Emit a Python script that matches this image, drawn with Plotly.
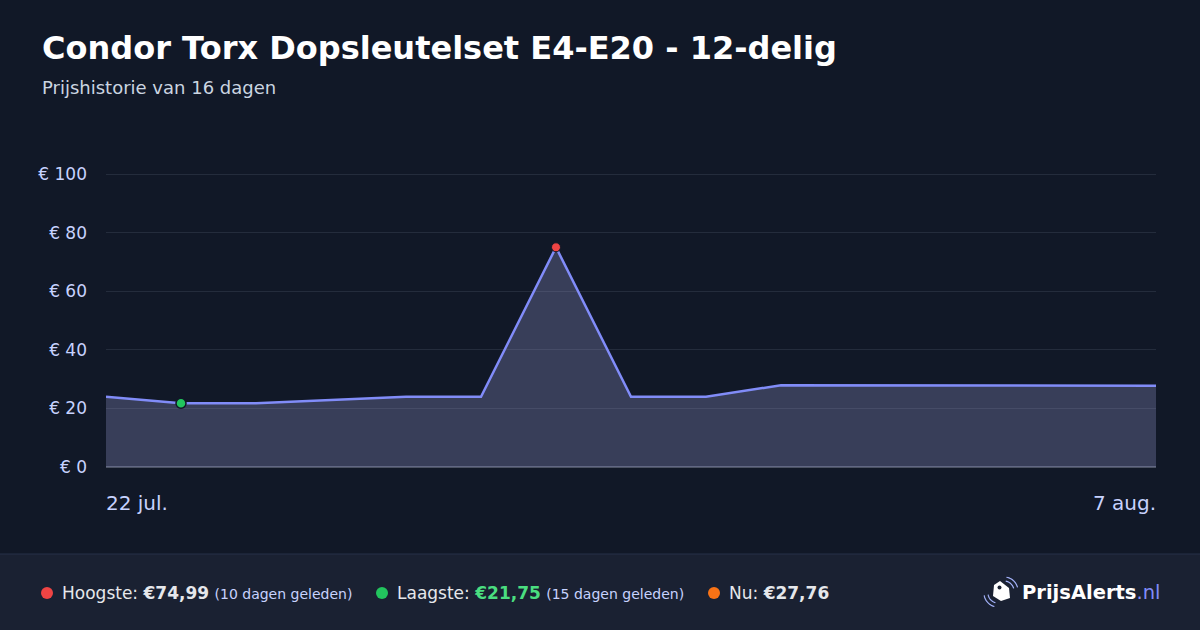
import math
import plotly.graph_objects as go

# ---- data ----
dates = ["22 jul.", "23 jul.", "24 jul.", "25 jul.", "26 jul.", "27 jul.", "28 jul.", "29 jul.",
         "30 jul.", "31 jul.", "1 aug.", "2 aug.", "3 aug.", "5 aug.", "7 aug."]
prices = [23.99, 21.75, 21.75, 22.90, 23.99, 23.99, 74.99, 23.99,
          23.99, 27.90, 27.90, 27.90, 27.85, 27.80, 27.76]
y_ticks = [0, 20, 40, 60, 80, 100]
y_tick_labels = ["€ 0", "€ 20", "€ 40", "€ 60", "€ 80", "€ 100"]
first_label = "22 jul."
last_label = "7 aug."
title = "Condor Torx Dopsleutelset E4-E20 - 12-delig"
subtitle = "Prijshistorie van 16 dagen"
high_idx = 6
low_idx = 1
high_ago = "(10 dagen geleden)"
low_ago = "(15 dagen geleden)"

W, H = 1200, 630
L, R, T, B = 106, 44, 172, 163
PW, PH = W - L - R, H - T - B
Y_MAX = 100 * PH / 293.0  # keeps 100 at y=174 px with a visible top gridline

def px(x):
    return (x - L) / PW

def py(y):
    return (H - B - y) / PH

FONT = "DejaVu Sans"
BG = "#111827"
FOOT = "#1a2132"

x = list(range(len(prices)))

fig = go.Figure()
fig.add_trace(go.Scatter(
    x=x, y=prices, mode="lines",
    line=dict(color="#818cf8", width=2.5),
    fill="tozeroy", fillcolor="rgba(150,152,205,0.30)",
    hoverinfo="skip", showlegend=False,
))
fig.add_trace(go.Scatter(
    x=[x[low_idx]], y=[prices[low_idx]], mode="markers",
    marker=dict(color="#22c55e", size=10, line=dict(color="#111827", width=1.5)),
    showlegend=False, hoverinfo="skip",
))
fig.add_trace(go.Scatter(
    x=[x[high_idx]], y=[prices[high_idx]], mode="markers",
    marker=dict(color="#ef4444", size=9, line=dict(color="#111827", width=1)),
    showlegend=False, hoverinfo="skip",
))

shapes = [
    dict(type="rect", xref="paper", yref="paper", x0=px(0), x1=px(W), y0=py(554), y1=py(H),
         fillcolor=FOOT, line=dict(width=0), layer="below"),
    dict(type="line", xref="paper", yref="paper", x0=px(0), x1=px(W), y0=py(554), y1=py(554),
         line=dict(color="#263049", width=1)),
]
for cx, col in [(47, "#ef4444"), (382, "#22c55e"), (714, "#f97316")]:
    shapes.append(dict(type="circle", xref="paper", yref="paper",
                       x0=px(cx - 6), x1=px(cx + 6), y0=py(593 - 6), y1=py(593 + 6),
                       fillcolor=col, line=dict(width=0)))

def path(points):
    return "M " + " L ".join(f"{px(a)},{py(b)}" for a, b in points) + " Z"

tag = [(1000, 581), (1009, 588), (1010, 598), (1001, 601), (993, 596), (994, 585)]
shapes.append(dict(type="path", xref="paper", yref="paper", path=path(tag),
                   fillcolor="white", line=dict(width=0)))
shapes.append(dict(type="circle", xref="paper", yref="paper",
                   x0=px(997.5), x1=px(1001.5), y0=py(585.5), y1=py(589.5),
                   fillcolor=FOOT, line=dict(width=0)))

def arc(cx, cy, r, a0, a1, n=12):
    pts = []
    for i in range(n + 1):
        a = math.radians(a0 + (a1 - a0) * i / n)
        pts.append((cx + r * math.cos(a), cy + r * math.sin(a)))
    return "M " + " L ".join(f"{px(a)},{py(b)}" for a, b in pts)

for cx, cy, r, a0, a1 in [(1004, 591, 10, -80, -15), (1004, 591, 14, -80, -15),
                          (998, 593, 10, 105, 170), (998, 593, 14, 105, 170)]:
    shapes.append(dict(type="path", xref="paper", yref="paper", path=arc(cx, cy, r, a0, a1),
                       line=dict(color="#a5b4fc", width=1.2)))

ann = [
    dict(x=px(40), y=py(48), xref="paper", yref="paper", xanchor="left", yanchor="middle",
         text=f"<b>{title}</b>", showarrow=False,
         font=dict(family=FONT, size=32, color="#ffffff")),
    dict(x=px(40), y=py(87), xref="paper", yref="paper", xanchor="left", yanchor="middle",
         text=subtitle, showarrow=False,
         font=dict(family=FONT, size=18, color="#cbd5e1")),
    dict(x=x[0], y=py(503), xref="x", yref="paper", xanchor="left", yanchor="middle",
         text=first_label, showarrow=False, xshift=-2,
         font=dict(family=FONT, size=20, color="#c7d2fe")),
    dict(x=x[-1], y=py(503), xref="x", yref="paper", xanchor="right", yanchor="middle",
         text=last_label, showarrow=False, xshift=2,
         font=dict(family=FONT, size=20, color="#c7d2fe")),
]

def eur(v):
    return "€" + f"{v:.2f}".replace(".", ",")

small = "<span style='font-size:14px;color:#c7d2fe'>"
foot_items = [
    (60, f"Hoogste: <b>{eur(prices[high_idx])}</b> {small}{high_ago}</span>"),
    (395, f"Laagste: <b><span style='color:#4ade80'>{eur(prices[low_idx])}</span></b> {small}{low_ago}</span>"),
    (727, f"Nu: <b>{eur(prices[-1])}</b>"),
]
for fx, txt in foot_items:
    ann.append(dict(x=px(fx), y=py(593), xref="paper", yref="paper", xanchor="left",
                    yanchor="middle", text=txt, showarrow=False,
                    font=dict(family=FONT, size=17, color="#e5e7eb")))
ann.append(dict(x=px(1162), y=py(592), xref="paper", yref="paper", xanchor="right",
                yanchor="middle", showarrow=False,
                text="<b>PrijsAlerts</b><span style='color:#818cf8'>.nl</span>",
                font=dict(family=FONT, size=19.5, color="#ffffff")))

fig.update_layout(
    width=W, height=H,
    margin=dict(l=L, r=R, t=T, b=B),
    paper_bgcolor=BG, plot_bgcolor=BG,
    shapes=shapes, annotations=ann,
    xaxis=dict(range=[x[0], x[-1]], showgrid=False, zeroline=False, showticklabels=False,
               fixedrange=True),
    yaxis=dict(range=[0, Y_MAX], tickmode="array", tickvals=y_ticks, ticktext=y_tick_labels,
               showgrid=True, gridcolor="#242c3c", gridwidth=1,
               zeroline=True, zerolinecolor="#4b5263", zerolinewidth=1.5,
               ticks="", ticklabelstandoff=18,
               tickfont=dict(family=FONT, size=17, color="#c7d2fe"), fixedrange=True),
    showlegend=False,
)

fig.write_html("out.html", config={"displayModeBar": False},
               post_script="document.body.style.margin='0';document.body.style.background='#111827';")
